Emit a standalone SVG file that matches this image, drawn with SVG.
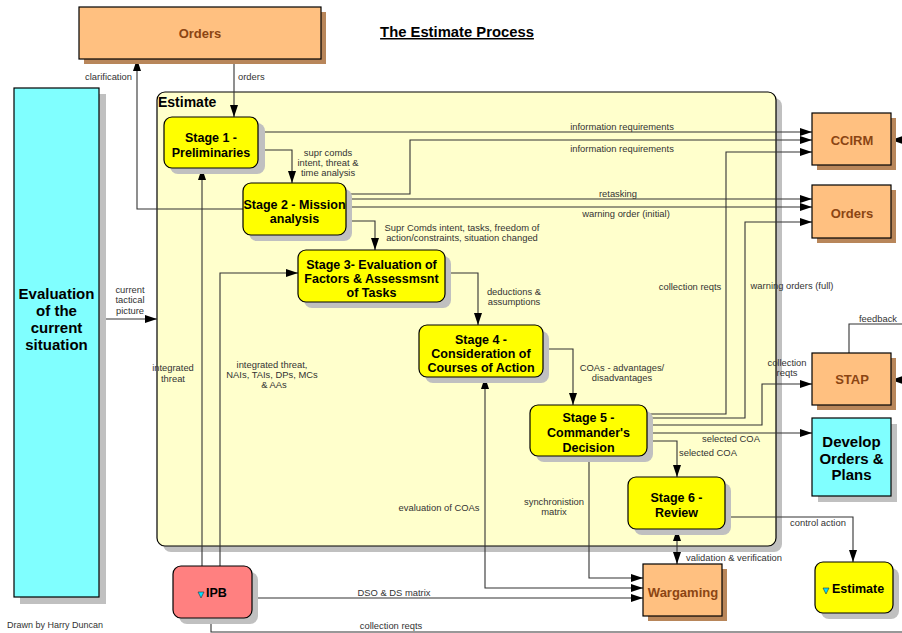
<svg xmlns="http://www.w3.org/2000/svg" width="902" height="633" viewBox="0 0 902 633">
  <defs>
    <marker id="arr" viewBox="0 0 12 8" refX="12" refY="4" markerWidth="12" markerHeight="8" orient="auto-start-reverse" markerUnits="userSpaceOnUse">
      <path d="M0,0 L12,4 L0,8 z" fill="#000"/>
    </marker>
  </defs>
  <style>
    .box { stroke: #000; stroke-width: 1.2; }
    .stage { fill: #ffff00; }
    .orange { fill: #ffc080; }
    .cyan { fill: #80ffff; }
    .pink { fill: #ff8080; }
    .gshadow { fill: #c0c0c0; }
    .bshadow { fill: #b8865a; }
    .stxt { font-family: "Liberation Sans", Arial, sans-serif; font-weight: bold; font-size: 12.5px; fill: #000; text-anchor: middle; }
    .otxt { font-family: "Liberation Sans", Arial, sans-serif; font-weight: bold; font-size: 13px; fill: #8b4513; text-anchor: middle; }
    .btxt { font-family: "Liberation Sans", Arial, sans-serif; font-weight: bold; font-size: 15px; fill: #000; text-anchor: middle; }
    .lbl { font-family: "Liberation Sans", Arial, sans-serif; font-size: 9.4px; fill: #333; text-anchor: middle; }
    .lblL { text-anchor: start; }
    .lblR { text-anchor: end; }
    .conn path { fill: none; stroke: #333; stroke-width: 1.1; }
    .tri { fill: #00e0ff; stroke: #333; stroke-width: 0.6; }
  </style>

  <rect width="902" height="633" fill="#fff"/>

  <!-- title -->
  <text x="457" y="37" font-family="Liberation Sans, Arial, sans-serif" font-weight="bold" font-size="14.8" text-anchor="middle" text-decoration="underline" fill="#000">The Estimate Process</text>

  <!-- Estimate container -->
  <g id="estimate-container">
    <rect x="163" y="98" width="619" height="454" rx="8" class="gshadow"/>
    <rect x="157" y="92" width="619" height="454" rx="8" fill="#ffffcc" class="box"/>
    <text x="158" y="107" font-family="Liberation Sans, Arial, sans-serif" font-weight="bold" font-size="14" fill="#000">Estimate</text>
  </g>

  <!-- connectors -->
  <g id="connectors" class="conn">
    <path d="M234,59 V117" marker-end="url(#arr)"/>
    <path d="M243,209 H137 V59" marker-end="url(#arr)"/>
    <path d="M258,132 H812" marker-end="url(#arr)"/>
    <path d="M346,194 H410 V140 H812" marker-end="url(#arr)"/>
    <path d="M647,414 H726 V152 H812" marker-end="url(#arr)"/>
    <path d="M346,199 H812" marker-end="url(#arr)"/>
    <path d="M346,207 H812" marker-end="url(#arr)"/>
    <path d="M647,418 H745 V222 H812" marker-end="url(#arr)"/>
    <path d="M346,221 H375 V250" marker-end="url(#arr)"/>
    <path d="M258,150 H292 V183" marker-end="url(#arr)"/>
    <path d="M445,273 H478 V325" marker-end="url(#arr)"/>
    <path d="M543,349 H573 V405" marker-end="url(#arr)"/>
    <path d="M647,425 H762 V384 H812" marker-end="url(#arr)"/>
    <path d="M647,433 H812" marker-end="url(#arr)"/>
    <path d="M647,441 H677 V477" marker-end="url(#arr)"/>
    <path d="M589,456 V578 H643" marker-end="url(#arr)"/>
    <path d="M643,588 H485 V377" marker-start="url(#arr)" marker-end="url(#arr)"/>
    <path d="M252,598 H643" marker-end="url(#arr)"/>
    <path d="M211,618 V632 H902"/>
    <path d="M677,529 V564" marker-start="url(#arr)" marker-end="url(#arr)"/>
    <path d="M725,517 H853 V562" marker-end="url(#arr)"/>
    <path d="M99,319 H157" marker-end="url(#arr)"/>
    <path d="M202,566 V168" marker-end="url(#arr)"/>
    <path d="M220,566 V273 H298" marker-end="url(#arr)"/>
    <path d="M902,140 H891" marker-end="url(#arr)"/>
    <path d="M902,380 H891" marker-end="url(#arr)"/>
    <path d="M849,353 V324 H902"/>
  </g>

  <!-- connector labels -->
  <g id="labels">
    <text class="lbl lblL" x="238" y="80">orders</text>
    <text class="lbl lblR" x="132" y="80">clarification</text>
    <text class="lbl" x="622" y="130">information requirements</text>
    <text class="lbl" x="622" y="152">information requirements</text>
    <text class="lbl" x="618" y="197">retasking</text>
    <text class="lbl" x="626" y="217">warning order (initial)</text>
    <text class="lbl" x="328" y="156">supr comds</text>
    <text class="lbl" x="328" y="166">intent, threat &amp;</text>
    <text class="lbl" x="328" y="176">time analysis</text>
    <text class="lbl" x="462" y="231">Supr Comds intent, tasks, freedom of</text>
    <text class="lbl" x="462" y="241">action/constraints, situation changed</text>
    <text class="lbl" x="514" y="295">deductions &amp;</text>
    <text class="lbl" x="514" y="305">assumptions</text>
    <text class="lbl" x="622" y="371">COAs - advantages/</text>
    <text class="lbl" x="622" y="381">disadvantages</text>
    <text class="lbl" x="690" y="290">collection reqts</text>
    <text class="lbl" x="792" y="289">warning orders (full)</text>
    <text class="lbl" x="878" y="322">feedback</text>
    <text class="lbl" x="787" y="366">collection</text>
    <text class="lbl" x="787" y="376">reqts</text>
    <text class="lbl" x="731" y="442">selected COA</text>
    <text class="lbl" x="708" y="456">selected COA</text>
    <text class="lbl" x="554" y="505">synchronistion</text>
    <text class="lbl" x="554" y="515">matrix</text>
    <text class="lbl" x="439" y="511">evaluation of COAs</text>
    <text class="lbl" x="394" y="596">DSO &amp; DS matrix</text>
    <text class="lbl" x="391" y="629">collection reqts</text>
    <text class="lbl" x="734" y="561">validation &amp; verification</text>
    <text class="lbl" x="818" y="526">control action</text>
    <text class="lbl" x="130" y="293">current</text>
    <text class="lbl" x="130" y="303">tactical</text>
    <text class="lbl" x="130" y="314">picture</text>
    <text class="lbl" x="173" y="371">integrated</text>
    <text class="lbl" x="173" y="382">threat</text>
    <text class="lbl" x="272" y="368">integrated threat,</text>
    <text class="lbl" x="272" y="378">NAIs, TAIs, DPs, MCs</text>
    <text class="lbl" x="274" y="388">&amp; AAs</text>
  </g>

  <!-- nodes -->
  <g id="orders-top">
    <rect x="84" y="12" width="242" height="52" class="bshadow"/>
    <rect x="79" y="7" width="242" height="52" class="orange box"/>
    <text class="otxt" x="200" y="38">Orders</text>
  </g>

  <g id="evaluation">
    <rect x="20" y="94" width="86" height="510" class="gshadow"/>
    <rect x="14" y="88" width="85" height="509" class="cyan box"/>
    <text class="btxt" x="56.5" y="298.5">Evaluation</text>
    <text class="btxt" x="56.5" y="315.5">of the</text>
    <text class="btxt" x="56.5" y="332.5">current</text>
    <text class="btxt" x="56.5" y="349.5">situation</text>
  </g>

  <g id="stage1">
    <rect x="170" y="123" width="95" height="51" rx="8" class="gshadow"/>
    <rect x="164" y="117" width="94" height="51" rx="8" class="stage box"/>
    <text class="stxt" x="211" y="141.5">Stage 1 -</text>
    <text class="stxt" x="211" y="156.5">Preliminaries</text>
  </g>

  <g id="stage2">
    <rect x="249" y="189" width="103" height="52" rx="8" class="gshadow"/>
    <rect x="243" y="183" width="103" height="52" rx="8" class="stage box"/>
    <text class="stxt" x="294.5" y="208.5">Stage 2 - Mission</text>
    <text class="stxt" x="294.5" y="222.5">analysis</text>
  </g>

  <g id="stage3">
    <rect x="304" y="256" width="147" height="52" rx="8" class="gshadow"/>
    <rect x="298" y="250" width="147" height="52" rx="8" class="stage box"/>
    <text class="stxt" x="371.5" y="268.5">Stage 3- Evaluation of</text>
    <text class="stxt" x="371.5" y="282.5">Factors &amp; Assessmsnt</text>
    <text class="stxt" x="371.5" y="296.5">of Tasks</text>
  </g>

  <g id="stage4">
    <rect x="425" y="331" width="124" height="52" rx="8" class="gshadow"/>
    <rect x="419" y="325" width="124" height="52" rx="8" class="stage box"/>
    <text class="stxt" x="481" y="343.5">Stage 4 -</text>
    <text class="stxt" x="481" y="357.5">Consideration of</text>
    <text class="stxt" x="481" y="371.5">Courses of Action</text>
  </g>

  <g id="stage5">
    <rect x="536" y="411" width="117" height="51" rx="8" class="gshadow"/>
    <rect x="530" y="405" width="117" height="51" rx="8" class="stage box"/>
    <text class="stxt" x="588.5" y="421.5">Stage 5 -</text>
    <text class="stxt" x="588.5" y="436.5">Commander's</text>
    <text class="stxt" x="588.5" y="451.5">Decision</text>
  </g>

  <g id="stage6">
    <rect x="634" y="483" width="97" height="52" rx="8" class="gshadow"/>
    <rect x="628" y="477" width="97" height="52" rx="8" class="stage box"/>
    <text class="stxt" x="676.5" y="502">Stage 6 -</text>
    <text class="stxt" x="676.5" y="516.5">Review</text>
  </g>

  <g id="ccirm">
    <rect x="817" y="118" width="79" height="52" class="bshadow"/>
    <rect x="812" y="113" width="79" height="52" class="orange box"/>
    <text class="otxt" x="852" y="144.5">CCIRM</text>
  </g>

  <g id="orders-right">
    <rect x="817" y="190" width="79" height="53" class="bshadow"/>
    <rect x="812" y="185" width="79" height="53" class="orange box"/>
    <text class="otxt" x="852" y="217.5">Orders</text>
  </g>

  <g id="stap">
    <rect x="817" y="358" width="79" height="52" class="bshadow"/>
    <rect x="812" y="353" width="79" height="52" class="orange box"/>
    <text class="otxt" x="852" y="383.5">STAP</text>
  </g>

  <g id="develop">
    <rect x="818" y="424" width="79" height="78" class="gshadow"/>
    <rect x="812" y="418" width="79" height="78" class="cyan box"/>
    <text class="btxt" x="851.5" y="446.5">Develop</text>
    <text class="btxt" x="851.5" y="463.5">Orders &amp;</text>
    <text class="btxt" x="851.5" y="479.5">Plans</text>
  </g>

  <g id="wargaming">
    <rect x="648" y="569" width="79" height="52" class="bshadow"/>
    <rect x="643" y="564" width="79" height="52" class="orange box"/>
    <text class="otxt" x="683" y="596.5">Wargaming</text>
  </g>

  <g id="estimate-small">
    <rect x="821" y="568" width="78" height="51" rx="8" class="gshadow"/>
    <rect x="815" y="562" width="78" height="51" rx="8" class="stage box"/>
    <path d="M823,588 L829,588 L826,594 z" class="tri"/>
    <text x="832" y="593" font-family="Liberation Sans, Arial, sans-serif" font-weight="bold" font-size="12.5" fill="#000">Estimate</text>
  </g>

  <g id="ipb">
    <rect x="179" y="572" width="79" height="52" rx="8" class="gshadow"/>
    <rect x="173" y="566" width="79" height="52" rx="8" class="pink box"/>
    <path d="M198,592 L204,592 L201,598 z" class="tri"/>
    <text x="206" y="597" font-family="Liberation Sans, Arial, sans-serif" font-weight="bold" font-size="12.5" fill="#000">IPB</text>
  </g>

  <text x="7" y="628" font-family="Liberation Sans, Arial, sans-serif" font-size="9" fill="#333">Drawn by Harry Duncan</text>
</svg>
